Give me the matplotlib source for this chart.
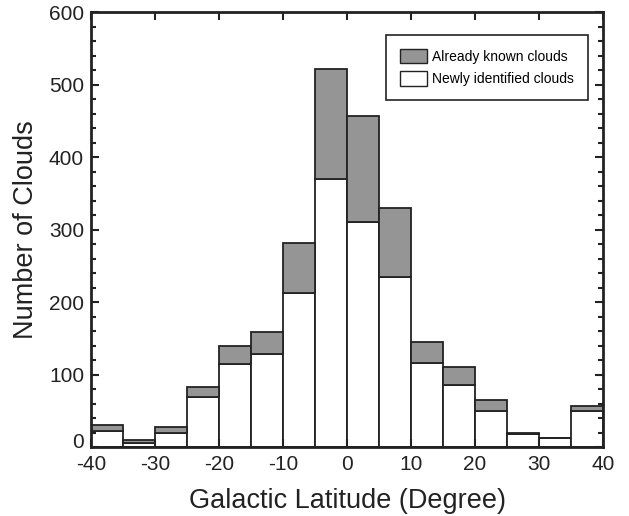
import numpy as np
import matplotlib
matplotlib.use('Agg')
import matplotlib.pyplot as plt
from matplotlib.patches import Patch
from matplotlib.ticker import MultipleLocator

plt.rcParams['font.family'] = ['Liberation Sans', 'DejaVu Sans']
plt.rcParams['axes.unicode_minus'] = False

# Bin left edges (degree), width 5
bin_left = [-40, -35, -30, -25, -20, -15, -10, -5, 0, 5, 10, 15, 20, 25, 30, 35]
# Newly identified clouds (bottom part)
new_clouds = [22, 6, 20, 69, 115, 128, 213, 370, 310, 235, 116, 86, 50, 18, 13, 49]
# Total clouds (top of the stacked bar)
total_clouds = [30, 9, 27, 83, 140, 158, 281, 521, 457, 329, 145, 111, 65, 20, 13, 57]
known_clouds = [t - n for t, n in zip(total_clouds, new_clouds)]

y_ticks = [0, 100, 200, 300, 400, 500, 600]

fig = plt.figure(figsize=(6.29, 5.16), dpi=100)
ax = fig.add_axes([0.1447, 0.1337, 0.814, 0.843])

ax.bar(bin_left, new_clouds, width=5, align='edge', color='white',
       edgecolor='#222222', linewidth=1.3)
ax.bar(bin_left, known_clouds, width=5, align='edge', bottom=new_clouds,
       color='#959595', edgecolor='#222222', linewidth=1.3)

ax.set_xlim(-40, 40)
ax.set_ylim(0, 600)
ax.xaxis.set_major_locator(MultipleLocator(10))
ax.set_yticks(y_ticks)
# the "0" is drawn separately, slightly raised so it clears the "-40"
ax.set_yticklabels([''] + [str(v) for v in y_ticks[1:]])
ax.yaxis.set_minor_locator(MultipleLocator(20))
ax.tick_params(which='both', direction='in', top=True, right=True,
               labelsize=15, colors='#222222', width=1.5)
ax.tick_params(which='major', length=6)
ax.tick_params(which='minor', length=3.5)
ax.tick_params(axis='x', pad=5.5)
ax.tick_params(axis='y', pad=5)
for s in ax.spines.values():
    s.set_linewidth(2)
    s.set_color('#222222')

ax.annotate('0', xy=(0, 0), xycoords='axes fraction', xytext=(-5, 3),
            textcoords='offset points', ha='right', va='center',
            fontsize=15, color='#222222')

ax.set_xlabel('Galactic Latitude (Degree)', fontsize=19.5, color='#222222', labelpad=10)
ax.set_ylabel('Number of Clouds', fontsize=19.5, color='#222222', labelpad=7)

handles = [Patch(facecolor='#959595', edgecolor='#222222', linewidth=1),
           Patch(facecolor='white', edgecolor='#222222', linewidth=1)]
leg = ax.legend(handles, ['Already known clouds', 'Newly identified clouds'],
                loc='upper right', bbox_to_anchor=(0.9707, 0.947), borderaxespad=0,
                fontsize=10, fancybox=False, framealpha=1, edgecolor='#222222',
                handlelength=1.9, handleheight=1.22, borderpad=1.0,
                labelspacing=0.55, handletextpad=0.4)
leg.get_frame().set_linewidth(1.2)

fig.savefig('out.png', dpi=100)
